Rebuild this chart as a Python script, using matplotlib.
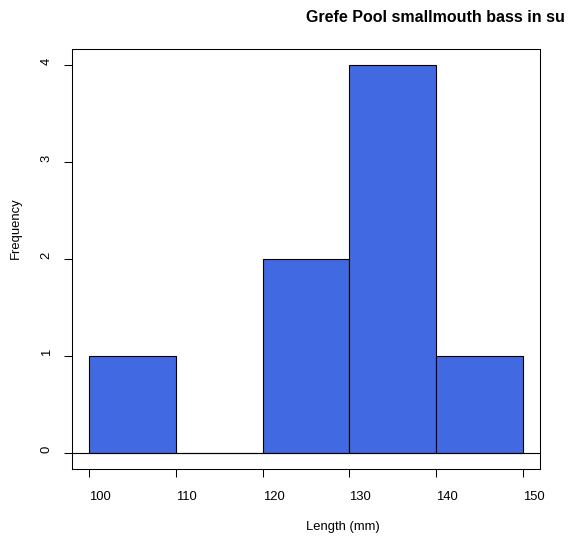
import matplotlib
matplotlib.use('Agg')
import matplotlib.pyplot as plt

# histogram bins (left edges) and counts
bin_left = [100, 110, 120, 130, 140]
counts = [1, 0, 2, 4, 1]
bin_width = 10
x_ticks = [100, 110, 120, 130, 140, 150]
y_ticks = [0, 1, 2, 3, 4]

plt.rcParams['font.family'] = ['Liberation Sans', 'DejaVu Sans']

W, H = 571, 539
fig = plt.figure(figsize=(W / 100, H / 100), dpi=100)
ax = fig.add_axes([72 / W, 1 - 469 / H, 468 / W, 420 / H])

ax.bar(bin_left, counts, width=bin_width, align='edge',
       color='#4169E1', edgecolor='black', linewidth=0.8)
ax.axhline(0, color='black', linewidth=0.8)

ax.set_xlim(98, 152)
ax.set_ylim(-0.16, 4.16)
ax.set_xticks(x_ticks)
ax.set_yticks(y_ticks)
ax.set_xticklabels([str(t) for t in x_ticks], ha='left')
ax.set_yticklabels([str(t) for t in y_ticks], rotation=90, va='bottom')
ax.tick_params(axis='both', length=5.8, width=0.75, labelsize=9.4, color='black')
ax.tick_params(axis='x', pad=10)
ax.tick_params(axis='y', pad=8)
for s in ax.spines.values():
    s.set_linewidth(0.75)

fig.text(306 / W, 1 - 527 / H, 'Length (mm)', ha='left', va='center', fontsize=9.4)
fig.text(16 / W, 1 - 259 / H, 'Frequency', rotation=90, ha='center', va='bottom', fontsize=9.4)
fig.text(306 / W, 1 - 18 / H, 'Grefe Pool smallmouth bass in su', ha='left', va='center',
         fontsize=11.5, fontweight='bold')

fig.savefig('out.png', dpi=100)
